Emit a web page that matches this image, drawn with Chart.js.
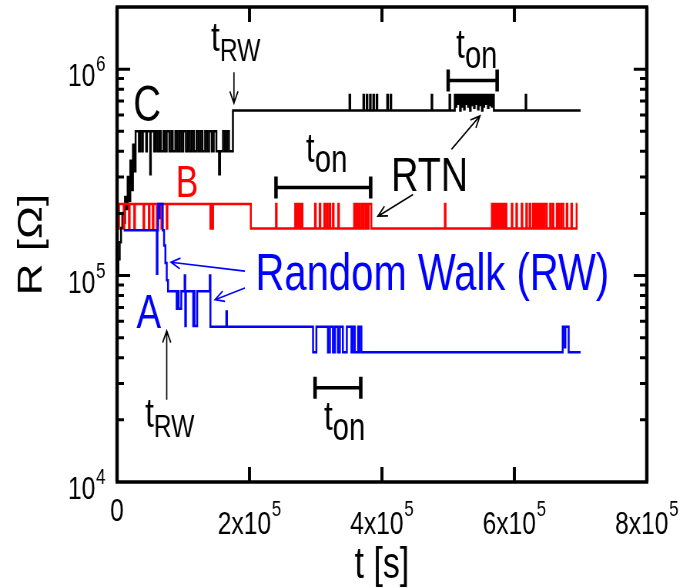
<!DOCTYPE html>
<html>
<head>
<meta charset="utf-8">
<script src="https://cdn.jsdelivr.net/npm/chart.js@4.4.0/dist/chart.umd.min.js"></script>
<style>
  html, body { margin: 0; padding: 0; background: #fff; overflow: hidden; }
  /* the figure is drawn wide and squeezed horizontally, like the original */
  #wrap { width: 887px; height: 588px; transform: scaleX(0.77); transform-origin: 0 0; }
</style>
</head>
<body>
<div id="wrap"><canvas id="chart"></canvas></div>
<script>
const SQUEEZE = 0.77;
const FONT = '"Liberation Sans", Arial, sans-serif';

// axis ticks
const xTicks = [0, 2e5, 4e5, 6e5, 8e5];
const yTicks = [1e4, 1e5, 1e6];

// traces: [t (s), R (Ohm)] - value holds from t until the next point
const traceA = [
  [1.0e4, 1.66e5], [6.0e4, 1.02e5], [6.1e4, 1.66e5], [6.2e4, 2.22e5], [6.4e4, 1.9e5],
  [6.45e4, 2.22e5], [6.9e4, 1.66e5], [7.1e4, 1.4e5], [7.3e4, 1.15e5], [7.5e4, 9.5e4],
  [7.7e4, 8.4e4], [9.0e4, 6.9e4], [9.2e4, 8.4e4], [9.3e4, 6.9e4], [9.7e4, 8.4e4],
  [1.02e5, 1.0e5], [1.03e5, 5.7e4], [1.04e5, 8.4e4], [1.15e5, 5.7e4], [1.165e5, 8.4e4],
  [1.17e5, 5.7e4], [1.21e5, 8.4e4], [1.4e5, 1.0e5], [1.41e5, 5.65e4], [1.65e5, 6.7e4],
  [1.66e5, 5.65e4], [2.96e5, 4.25e4], [3.01e5, 5.65e4], [3.185e5, 4.25e4], [3.215e5, 5.65e4],
  [3.26e5, 4.25e4], [3.29e5, 5.65e4], [3.335e5, 4.25e4], [3.365e5, 5.65e4], [3.41e5, 4.25e4],
  [3.47e5, 5.65e4], [3.54e5, 4.25e4], [3.56e5, 5.65e4], [3.59e5, 4.25e4], [3.64e5, 5.65e4],
  [3.65e5, 4.25e4], [3.66e5, 5.65e4], [3.69e5, 4.25e4], [6.73e5, 5.65e4], [6.76e5, 4.5e4],
  [6.77e5, 5.65e4], [6.82e5, 4.25e4], [7.0e5, 4.25e4]
];

const traceB = [
  [1e3, 1.69e5], [3e3, 2.22e5], [1.0e4, 1.69e5], [1.1e4, 2.22e5], [1.8e4, 1.69e5],
  [1.9e4, 2.22e5], [2.6e4, 1.69e5], [2.7e4, 2.22e5], [4.0e4, 1.69e5], [4.1e4, 2.22e5],
  [4.8e4, 1.69e5], [4.9e4, 2.22e5], [5.4e4, 1.69e5], [5.5e4, 2.22e5], [6.0e4, 1.69e5],
  [6.1e4, 2.22e5], [6.7e4, 1.69e5], [6.8e4, 2.22e5], [7.5e4, 1.69e5], [7.6e4, 2.22e5],
  [1.41e5, 1.69e5], [1.42e5, 2.22e5], [1.43e5, 1.69e5], [1.45e5, 2.22e5], [2.02e5, 1.69e5],
  [2.40e5, 2.22e5], [2.41e5, 1.69e5], [2.69e5, 2.22e5], [2.70e5, 1.69e5], [2.72e5, 2.22e5],
  [2.73e5, 1.69e5], [2.75e5, 2.22e5], [2.76e5, 1.69e5], [2.78e5, 2.22e5], [2.80e5, 1.69e5],
  [2.99e5, 2.22e5], [3.00e5, 1.69e5], [3.06e5, 2.22e5], [3.07e5, 1.69e5], [3.13e5, 2.22e5],
  [3.14e5, 1.69e5], [3.17e5, 2.22e5], [3.18e5, 1.69e5], [3.21e5, 2.22e5], [3.22e5, 1.69e5],
  [3.26e5, 2.22e5], [3.27e5, 1.69e5], [3.34e5, 2.22e5], [3.35e5, 1.69e5], [3.58e5, 2.22e5],
  [3.59e5, 1.69e5], [3.61e5, 2.22e5], [3.62e5, 1.69e5], [3.64e5, 2.22e5], [3.66e5, 1.69e5],
  [3.69e5, 2.22e5], [3.70e5, 1.69e5], [3.72e5, 2.22e5], [3.75e5, 1.69e5], [3.77e5, 2.22e5],
  [3.78e5, 1.69e5], [3.80e5, 2.22e5], [3.84e5, 1.69e5], [4.95e5, 2.22e5], [4.96e5, 1.69e5],
  [5.66e5, 2.22e5], [5.68e5, 1.69e5], [5.70e5, 2.22e5], [5.71e5, 1.69e5], [5.73e5, 2.22e5],
  [5.75e5, 1.69e5], [5.77e5, 2.22e5], [5.78e5, 1.69e5], [5.80e5, 2.22e5], [5.82e5, 1.69e5],
  [5.84e5, 2.22e5], [5.85e5, 1.69e5], [5.87e5, 2.22e5], [5.88e5, 1.69e5], [5.96e5, 2.22e5],
  [5.97e5, 1.69e5], [6.03e5, 2.22e5], [6.04e5, 1.69e5], [6.11e5, 2.22e5], [6.12e5, 1.69e5],
  [6.18e5, 2.22e5], [6.19e5, 1.69e5], [6.23e5, 2.22e5], [6.24e5, 1.69e5], [6.28e5, 2.22e5],
  [6.30e5, 1.69e5], [6.32e5, 2.22e5], [6.33e5, 1.69e5], [6.35e5, 2.22e5], [6.37e5, 1.69e5],
  [6.39e5, 2.22e5], [6.40e5, 1.69e5], [6.42e5, 2.22e5], [6.44e5, 1.69e5], [6.46e5, 2.22e5],
  [6.49e5, 1.69e5], [6.54e5, 2.22e5], [6.55e5, 1.69e5], [6.58e5, 2.22e5], [6.59e5, 1.69e5],
  [6.64e5, 2.22e5], [6.65e5, 1.69e5], [6.67e5, 2.22e5], [6.68e5, 1.69e5], [6.71e5, 2.22e5],
  [6.74e5, 1.69e5], [6.79e5, 2.22e5], [6.80e5, 1.69e5], [6.86e5, 2.22e5], [6.87e5, 1.69e5],
  [6.94e5, 2.22e5], [6.95e5, 2.22e5]
];

const traceC = [
  [0, 1.0e5], [2e3, 1.2e5], [4e3, 1.45e5], [6e3, 1.7e5], [8e3, 2.0e5], [1.0e4, 1.8e5],
  [1.2e4, 2.4e5], [1.4e4, 2.1e5], [1.6e4, 3.0e5], [1.8e4, 2.3e5], [2.0e4, 3.6e5],
  [2.2e4, 2.6e5], [2.4e4, 4.3e5], [2.6e4, 3.2e5], [2.8e4, 5.0e5],
  [3.3e4, 4.0e5], [3.5e4, 5.0e5], [3.8e4, 4.0e5], [3.9e4, 5.0e5], [4.4e4, 4.0e5],
  [4.5e4, 5.0e5], [5.0e4, 3.1e5], [5.1e4, 5.0e5], [5.6e4, 4.0e5], [5.8e4, 5.0e5],
  [6.1e4, 4.0e5], [6.4e4, 5.0e5], [6.6e4, 4.0e5], [7.0e4, 5.0e5], [7.2e4, 4.0e5],
  [7.5e4, 5.0e5], [7.9e4, 4.0e5], [8.2e4, 5.0e5], [8.4e4, 4.0e5], [8.8e4, 5.0e5],
  [9.1e4, 4.0e5], [9.4e4, 5.0e5], [9.7e4, 4.0e5], [1.0e5, 5.0e5], [1.04e5, 4.0e5],
  [1.07e5, 5.0e5], [1.1e5, 4.0e5], [1.13e5, 5.0e5], [1.16e5, 4.0e5], [1.2e5, 5.0e5],
  [1.23e5, 4.0e5], [1.26e5, 5.0e5], [1.29e5, 4.0e5], [1.33e5, 5.0e5], [1.36e5, 4.0e5],
  [1.39e5, 5.0e5], [1.43e5, 4.0e5], [1.46e5, 5.0e5], [1.5e5, 4.0e5], [1.54e5, 3.1e5],
  [1.555e5, 4.0e5], [1.6e5, 5.0e5], [1.63e5, 4.0e5], [1.66e5, 5.0e5], [1.69e5, 4.0e5],
  [1.75e5, 6.3e5], [3.51e5, 7.5e5], [3.52e5, 6.3e5], [3.72e5, 7.5e5], [3.73e5, 6.3e5],
  [3.77e5, 7.5e5], [3.78e5, 6.3e5], [3.82e5, 7.5e5], [3.83e5, 6.3e5], [3.87e5, 7.5e5],
  [3.88e5, 6.3e5], [3.92e5, 7.5e5], [3.93e5, 6.3e5], [4.08e5, 7.5e5], [4.09e5, 6.3e5],
  [4.13e5, 7.5e5], [4.14e5, 6.3e5], [4.75e5, 7.5e5], [4.76e5, 6.3e5], [5.02e5, 7.5e5],
  [5.03e5, 6.3e5], [5.10e5, 7.5e5], [5.12e5, 6.6e5], [5.125e5, 7.5e5], [5.15e5, 6.8e5],
  [5.155e5, 7.5e5], [5.18e5, 6.3e5], [5.19e5, 7.5e5], [5.21e5, 6.6e5], [5.215e5, 7.5e5],
  [5.24e5, 6.4e5], [5.25e5, 7.5e5], [5.27e5, 6.8e5], [5.275e5, 7.5e5], [5.30e5, 6.6e5],
  [5.31e5, 7.5e5], [5.33e5, 6.3e5], [5.34e5, 7.5e5], [5.36e5, 6.7e5], [5.365e5, 7.5e5],
  [5.39e5, 6.5e5], [5.40e5, 7.5e5], [5.42e5, 6.8e5], [5.425e5, 7.5e5], [5.45e5, 6.4e5],
  [5.46e5, 7.5e5], [5.48e5, 6.7e5], [5.485e5, 7.5e5], [5.51e5, 6.3e5], [5.52e5, 7.5e5],
  [5.54e5, 6.6e5], [5.545e5, 7.5e5], [5.57e5, 6.8e5], [5.575e5, 7.5e5], [5.60e5, 6.5e5],
  [5.61e5, 7.5e5], [5.63e5, 6.7e5], [5.635e5, 7.5e5], [5.66e5, 6.6e5], [5.665e5, 7.5e5],
  [5.69e5, 6.3e5], [6.17e5, 7.5e5], [6.18e5, 6.3e5], [7.0e5, 6.3e5]
];

// annotations, placed in data coordinates
const bigLabels = [
  { text: "C", t: 4.53e4, r: 5.59e5, size: 50, color: "#000" },
  { text: "B", t: 1.057e5, r: 2.4e5, size: 44, color: "#ff0000" },
  { text: "A", t: 4.8e4, r: 5.59e4, size: 48, color: "#0000ff" },
  { text: "RTN", t: 4.72e5, r: 2.56e5, size: 49, color: "#000" },
  { text: "Random Walk (RW)", t: 4.76e5, r: 8.55e4, size: 52, color: "#0000ff" },
];
const subLabels = [
  { main: "t", sub: "RW", t: 1.419e5, r: 1.223e6, subSize: 32 },
  { main: "t", sub: "RW", t: 4.23e4, r: 1.85e4, subSize: 32 },
  { main: "t", sub: "on", t: 5.12e5, r: 1.13e6, subSize: 38 },
  { main: "t", sub: "on", t: 2.853e5, r: 3.54e5, subSize: 38 },
  { main: "t", sub: "on", t: 3.124e5, r: 1.79e4, subSize: 38 },
];
const bars = [
  { t0: 5.0e5, t1: 5.74e5, r: 8.8e5 },
  { t0: 2.4e5, t1: 3.83e5, r: 2.67e5 },
  { t0: 2.99e5, t1: 3.68e5, r: 2.86e4 },
];
const arrows = [
  { t0: 1.765e5, r0: 9.67e5, t1: 1.765e5, r1: 6.84e5, color: "#000" },
  { t0: 7.5e4, r0: 2.5e4, t1: 7.5e4, r1: 5.4e4, color: "#000" },
  { t0: 5.05e5, r0: 4.09e5, t1: 5.48e5, r1: 5.93e5, color: "#000" },
  { t0: 4.47e5, r0: 2.47e5, t1: 3.94e5, r1: 1.94e5, color: "#000" },
  { t0: 1.93e5, r0: 1.05e5, t1: 8.15e4, r1: 1.16e5, color: "#0000ff" },
  { t0: 1.93e5, r0: 8.7e4, t1: 1.48e5, r1: 7.64e4, color: "#0000ff" },
];

function toPoints(trace) {
  return trace.map((p) => ({ x: p[0], y: p[1] }));
}

function drawPower(ctx, base, exp, x, y, align, supRise) {
  ctx.font = "32px " + FONT;
  const wb = ctx.measureText(base).width;
  ctx.font = "22px " + FONT;
  const we = exp ? ctx.measureText(exp).width + 1 : 0;
  const total = wb + we;
  const x0 = align === "right" ? x - total : x - total / 2;
  ctx.textAlign = "left";
  ctx.textBaseline = "alphabetic";
  ctx.font = "32px " + FONT;
  ctx.fillText(base, x0, y);
  if (exp) {
    ctx.font = "22px " + FONT;
    ctx.fillText(exp, x0 + wb + 1, y - supRise);
  }
}

function drawArrow(ctx, x0, y0, x1, y1) {
  const ang = Math.atan2(y1 - y0, x1 - x0);
  const len = 13;
  const spread = 0.42;
  ctx.beginPath();
  ctx.moveTo(x0, y0);
  ctx.lineTo(x1, y1);
  ctx.moveTo(x1 - len * Math.cos(ang - spread), y1 - len * Math.sin(ang - spread));
  ctx.lineTo(x1, y1);
  ctx.lineTo(x1 - len * Math.cos(ang + spread), y1 - len * Math.sin(ang + spread));
  ctx.stroke();
}

const figurePlugin = {
  id: "figure",
  afterDraw(chart) {
    const ctx = chart.ctx;
    const a = chart.chartArea;
    const xs = chart.scales.x;
    const ys = chart.scales.y;
    const px = (t) => xs.getPixelForValue(t);
    const py = (r) => ys.getPixelForValue(r);
    ctx.save();
    ctx.strokeStyle = "#000";
    ctx.fillStyle = "#000";

    // inward ticks on all four sides
    ctx.lineWidth = 3;
    for (let e = Math.floor(Math.log10(ys.min)); e <= Math.log10(ys.max); e++) {
      for (let m = 1; m <= 9; m++) {
        const v = m * Math.pow(10, e);
        if (v <= ys.min || v >= ys.max) continue;
        const y = py(v);
        const len = m === 1 ? 17 : 9;
        ctx.beginPath();
        ctx.moveTo(a.left, y);
        ctx.lineTo(a.left + len, y);
        ctx.moveTo(a.right, y);
        ctx.lineTo(a.right - len, y);
        ctx.stroke();
      }
    }
    ctx.lineWidth = 3 / SQUEEZE;
    xTicks.forEach((v) => {
      if (v <= xs.min || v >= xs.max) return;
      const x = px(v);
      ctx.beginPath();
      ctx.moveTo(x, a.bottom);
      ctx.lineTo(x, a.bottom - 15);
      ctx.moveTo(x, a.top);
      ctx.lineTo(x, a.top + 15);
      ctx.stroke();
    });

    // frame
    ctx.lineWidth = 3.4;
    ctx.beginPath();
    ctx.moveTo(a.left - 2, a.top);
    ctx.lineTo(a.right + 2, a.top);
    ctx.moveTo(a.left - 2, a.bottom);
    ctx.lineTo(a.right + 2, a.bottom);
    ctx.stroke();
    ctx.lineWidth = 3.4 / SQUEEZE;
    ctx.beginPath();
    ctx.moveTo(a.left, a.top);
    ctx.lineTo(a.left, a.bottom);
    ctx.moveTo(a.right, a.top);
    ctx.lineTo(a.right, a.bottom);
    ctx.stroke();

    // tick labels
    yTicks.forEach((v) => {
      drawPower(ctx, "10", String(Math.round(Math.log10(v))), a.left - 15, py(v) + 17, "right", 15);
    });
    xTicks.forEach((v) => {
      if (v === 0) {
        drawPower(ctx, "0", "", px(v), a.bottom + 39, "center", 0);
      } else {
        drawPower(ctx, (v / 1e5) + "x10", "5", px(v), a.bottom + 52, "center", 18);
      }
    });

    // t_on bars
    bars.forEach((b) => {
      const x0 = px(b.t0);
      const x1 = px(b.t1);
      const y = py(b.r);
      ctx.lineWidth = 3.5;
      ctx.beginPath();
      ctx.moveTo(x0, y);
      ctx.lineTo(x1, y);
      ctx.stroke();
      ctx.lineWidth = 3.5 / SQUEEZE;
      ctx.beginPath();
      ctx.moveTo(x0, y - 11);
      ctx.lineTo(x0, y + 11);
      ctx.moveTo(x1, y - 11);
      ctx.lineTo(x1, y + 11);
      ctx.stroke();
    });

    // arrows
    ctx.lineWidth = 1.7;
    arrows.forEach((ar) => {
      ctx.strokeStyle = ar.color;
      drawArrow(ctx, px(ar.t0), py(ar.r0), px(ar.t1), py(ar.r1));
    });

    // labels
    ctx.textBaseline = "alphabetic";
    bigLabels.forEach((l) => {
      ctx.fillStyle = l.color;
      ctx.textAlign = "center";
      ctx.font = l.size + "px " + FONT;
      ctx.fillText(l.text, px(l.t), py(l.r));
    });
    ctx.fillStyle = "#000";
    subLabels.forEach((l) => {
      const x = px(l.t);
      const y = py(l.r);
      ctx.textAlign = "left";
      ctx.font = "41px " + FONT;
      ctx.fillText(l.main, x, y);
      const w = ctx.measureText(l.main).width;
      ctx.font = l.subSize + "px " + FONT;
      ctx.fillText(l.sub, x + w, y + 10);
    });
    ctx.restore();
  },
};

Chart.defaults.font.family = FONT;
Chart.defaults.color = "#000";

new Chart(document.getElementById("chart"), {
  type: "line",
  data: {
    datasets: [
      { label: "A", data: toPoints(traceA), borderColor: "#0000ff" },
      { label: "B", data: toPoints(traceB), borderColor: "#ff0000" },
      { label: "C", data: toPoints(traceC), borderColor: "#000000" },
    ],
  },
  options: {
    responsive: true,
    maintainAspectRatio: false,
    animation: false,
    events: [],
    layout: { padding: { left: 0, right: 47, top: 7, bottom: 0 } },
    elements: {
      line: { stepped: true, borderWidth: 2.5, tension: 0, fill: false },
      point: { radius: 0 },
    },
    plugins: { legend: { display: false }, tooltip: { enabled: false } },
    scales: {
      x: {
        type: "linear",
        min: 0,
        max: 8e5,
        grid: { display: false },
        border: { display: false },
        ticks: { display: false, stepSize: 2e5 },
        title: {
          display: true,
          text: "t [s]",
          font: { size: 44, lineHeight: 1 },
          padding: { top: 0, bottom: 0 },
        },
        afterFit: (s) => { s.height = 106; },
      },
      y: {
        type: "logarithmic",
        min: 1e4,
        max: 2e6,
        grid: { display: false },
        border: { display: false },
        ticks: { display: false },
        title: {
          display: true,
          text: "R [Ω]",
          font: { size: 44, lineHeight: 1 },
          padding: { top: 20, bottom: 0 },
        },
        afterFit: (s) => { s.width = 152; },
      },
    },
  },
  plugins: [figurePlugin],
});
</script>
</body>
</html>
